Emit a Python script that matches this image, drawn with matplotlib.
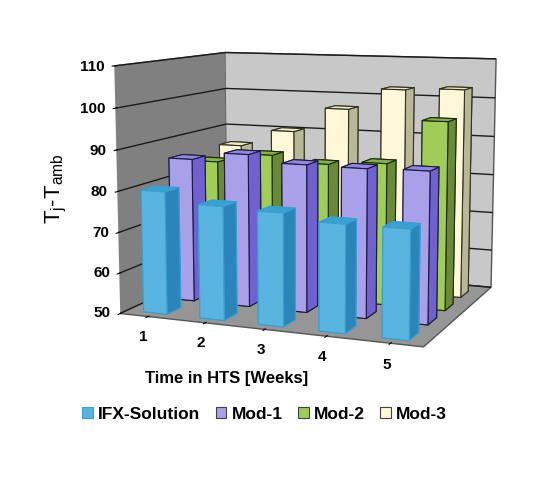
import numpy as np
import matplotlib.pyplot as plt

plt.rcParams['font.family'] = ['Liberation Sans', 'DejaVu Sans']

weeks = [1, 2, 3, 4, 5]
series = ["IFX-Solution", "Mod-1", "Mod-2", "Mod-3"]
ifx = [80, 77.5, 77, 75.5, 75.5]
mod1 = [86, 88, 86.3, 86.2, 86.5]
mod2 = [83.5, 86, 84.5, 85.5, 96.5]
mod3 = [86, 90.5, 97, 102.5, 103]
zticks = [50, 60, 70, 80, 90, 100, 110]

# front / side / top face colours per series
front_cols = ["#5ab4e0", "#a8a0e8", "#a0cc58", "#fff8d8"]
side_cols = ["#2a86b8", "#7060d0", "#6a8a38", "#b8b898"]
top_cols = ["#3aa0d0", "#9088dc", "#88b048", "#ece8c8"]
edge_cols = ["#3a9fd0", "#1a1a40", "#1a2a10", "#303020"]

values = [ifx, mod1, mod2, mod3]
zmin = 50

fig = plt.figure(figsize=(5.4, 4.85), dpi=100)
ax = fig.add_axes([0.095, 0.2, 0.95, 0.82], projection='3d')
ax.set_proj_type('persp', focal_length=0.6)
ax.view_init(elev=9, azim=-68)

bw, bd = 0.42, 0.5
for s, vals in enumerate(values):
    xs = np.array(weeks) - bw / 2
    ys = np.full(len(weeks), s + 0.5 - bd / 2)
    zs = np.full(len(weeks), zmin)
    dz = np.array(vals) - zmin
    # faces: bottom, top, front(-y), back(+y), left(-x), right(+x)
    face = [side_cols[s], top_cols[s], front_cols[s], side_cols[s], side_cols[s], side_cols[s]]
    ax.bar3d(xs, ys, zs, bw, bd, dz, color=face * len(weeks), shade=False,
             edgecolor=edge_cols[s], linewidth=0.8)

ax.set_xlim(0.5, 5.5)
ax.set_ylim(0, 4.2)
ax.set_zlim(50, 110)
ax.set_box_aspect((1.28, 1.0, 1.0), zoom=1.12)

ax.set_xticks(weeks)
ax.set_xticklabels([str(w) for w in weeks], fontsize=11, fontweight='bold')
ax.set_yticks([])
ax.set_zticks(zticks)
ax.set_zticklabels([])
ax.zaxis.set_tick_params(label1On=False)
ax.zaxis.set_ticks_position('lower')
ax.xaxis.set_tick_params(pad=-2)
# value labels placed level with the gridlines on the front edge of the left wall
for v in zticks:
    ax.text(0.33, 0, v, str(v), fontsize=11, fontweight='bold',
            ha='right', va='center')

ax.xaxis.set_pane_color("#808080")
ax.yaxis.set_pane_color("#c8c8c8")
ax.zaxis.set_pane_color("#969696")
for a in (ax.xaxis, ax.yaxis, ax.zaxis):
    a.pane.set_edgecolor("#555555")
    a.line.set_color((0, 0, 0, 0))
ax.xaxis._axinfo['grid']['color'] = (0, 0, 0, 0)
ax.yaxis._axinfo['grid']['color'] = (0, 0, 0, 0)
ax.zaxis._axinfo['grid']['color'] = (0.1, 0.1, 0.1, 1)
ax.zaxis._axinfo['grid']['linewidth'] = 1.0

fig.text(0.105, 0.61, r'$\mathregular{T_j}$-$\mathregular{T_{amb}}$', rotation=90,
         fontsize=16, ha='center', va='center')
fig.text(0.42, 0.22, "Time in HTS [Weeks]", fontsize=12, fontweight='bold',
         ha='center', va='center')

handles = [plt.Rectangle((0, 0), 1, 1, facecolor=front_cols[i],
                         edgecolor='#3a9fd0' if i == 0 else '#404040', linewidth=0.8)
           for i in range(4)]
fig.legend(handles, series, loc='center', bbox_to_anchor=(0.49, 0.145), ncol=4,
           frameon=False, handlelength=0.6, handleheight=0.6, handletextpad=0.3,
           columnspacing=0.9, prop={'size': 12.5, 'weight': 'bold'})

fig.savefig("out.png", dpi=100)
